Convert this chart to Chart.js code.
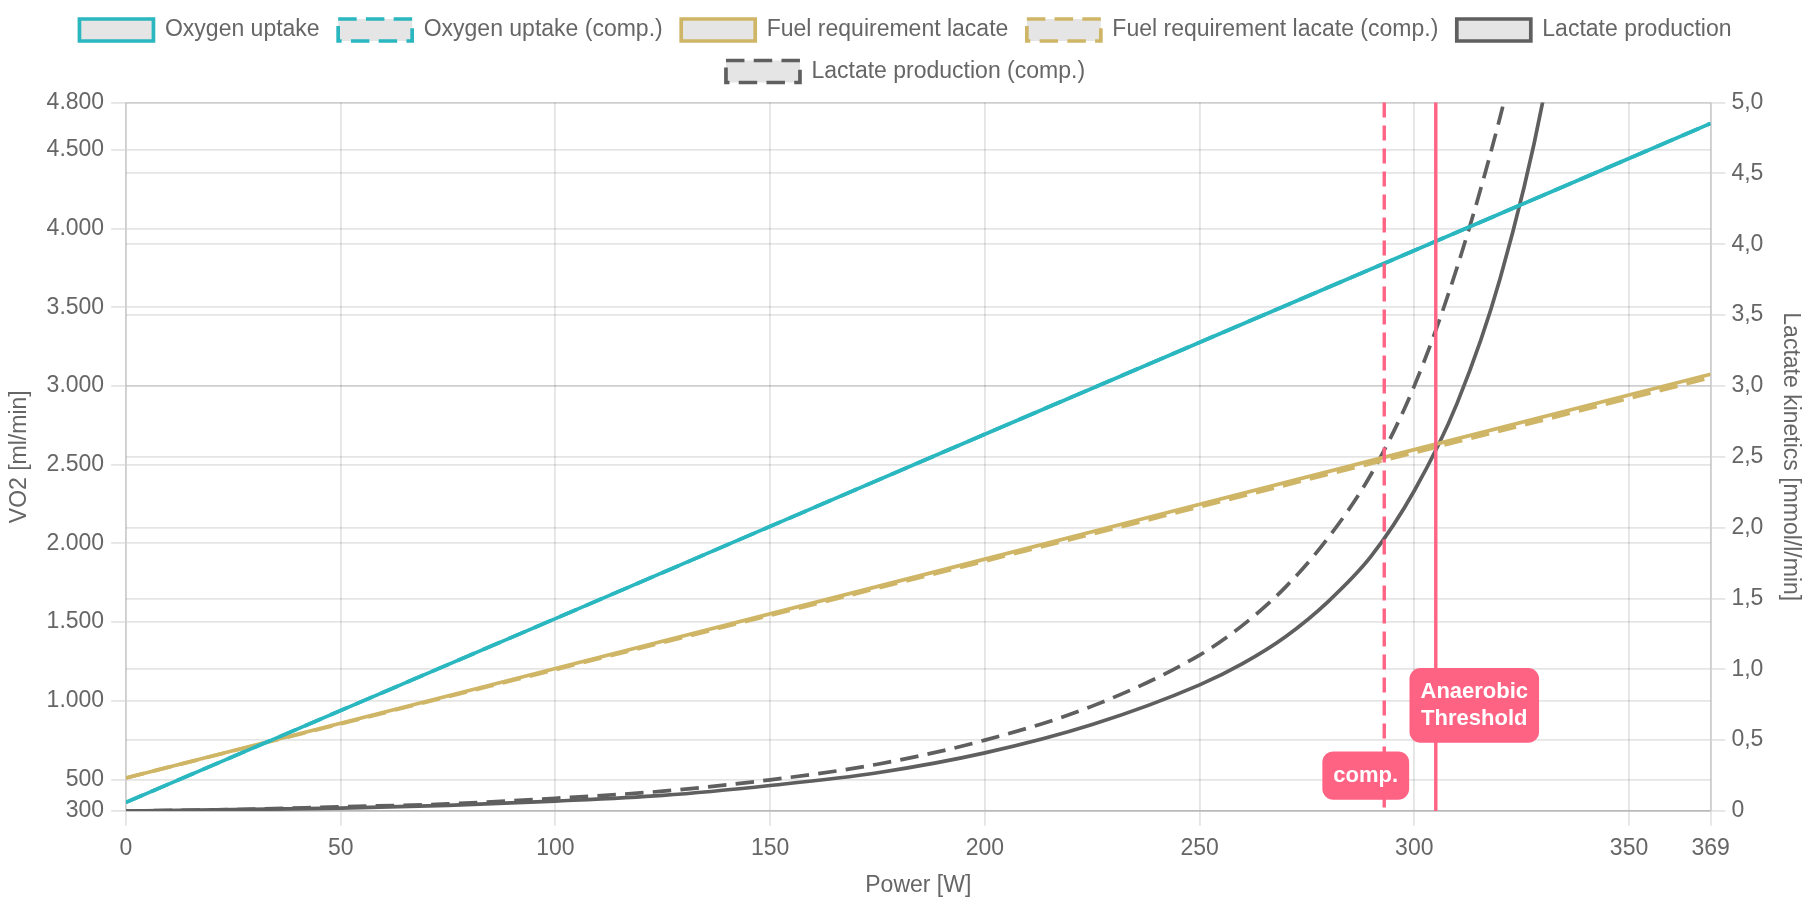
<!DOCTYPE html>
<html>
<head>
<meta charset="utf-8">
<title>Lactate kinetics</title>
<script src="https://cdn.jsdelivr.net/npm/chart.js@4.4.1/dist/chart.umd.min.js"></script>
<style>
    html, body { margin: 0; padding: 0; background: #fff; }
    #chart-wrap { position: relative; width: 1811px; height: 905px; }
</style>
</head>
<body>
<div id="chart-wrap"><canvas id="lactate-chart"></canvas></div>
<script>
// tick labels
const powerTicks = [0, 50, 100, 150, 200, 250, 300, 350, 369];
const vo2Ticks = [300, 500, 1000, 1500, 2000, 2500, 3000, 3500, 4000, 4500, 4800];
const lactateTicks = [0, 0.5, 1, 1.5, 2, 2.5, 3, 3.5, 4, 4.5, 5];

// straight series (VO2 axis, ml/min)
const linePower = [0, 100, 200, 300, 369];
const oxygenUptake = [355, 1522, 2693, 3860, 4667];
const oxygenUptakeComp = [355, 1522, 2693, 3860, 4667];
const fuelLactate = [510, 1205, 1900, 2595, 3074];
const fuelLactateComp = [510, 1198, 1887, 2576, 3052];

// lactate production (right axis, mmol/l/min)
const lactatePower = [0, 25, 50, 75, 100, 125, 150, 175, 200, 225, 250, 260, 270, 280, 290, 300, 310, 320, 330, 340];
const lactateProduction = [0, 0.01, 0.02, 0.04, 0.07, 0.11, 0.18, 0.27, 0.41, 0.61, 0.89, 1.04, 1.23, 1.48, 1.80, 2.26, 2.88, 3.76, 5.02, 6.9];
const lactatePowerComp = [0, 25, 50, 75, 100, 125, 150, 175, 200, 225, 250, 260, 270, 280, 290, 300, 310, 320, 330];
const lactateProductionComp = [0, 0.01, 0.03, 0.05, 0.09, 0.14, 0.22, 0.33, 0.50, 0.74, 1.10, 1.31, 1.58, 1.93, 2.38, 3.00, 3.84, 4.90, 6.2];

// thresholds (W)
const thresholdPower = 305;
const thresholdPowerComp = 293;

const FONT = "'Liberation Sans', Arial, Helvetica, sans-serif";
const TEAL = '#2ab7bf';
const GOLD = '#cfb566';
const GREY = '#5f5f5f';
const PINK = '#ff6384';
const DASH = [18.5, 9.25];

function points(xs, ys) {
    return xs.map(function (x, i) {
        return {x: x, y: ys[i]};
    });
}

function fixedTicks(values) {
    return function (axis) {
        axis.ticks = values.map(function (v) {
            return {value: v};
        });
    };
}

function lineDataset(label, xs, ys, color, dashed, axis) {
    return {
        label: label,
        data: points(xs, ys),
        borderColor: color,
        backgroundColor: 'rgba(0,0,0,0.1)',
        borderWidth: 3.7,
        borderDash: dashed ? DASH : [],
        pointRadius: 0,
        pointHoverRadius: 0,
        fill: false,
        cubicInterpolationMode: 'monotone',
        yAxisID: axis
    };
}

// vertical threshold lines + labels (no annotation plugin available offline)
const thresholdLines = {
    id: 'thresholdLines',
    afterDatasetsDraw(chart, args, opts) {
        const {ctx, chartArea, scales} = chart;
        const pad = 11;
        const lineHeight = 26.4;

        opts.lines.forEach(function (line) {
            const x = scales.x.getPixelForValue(line.value);

            ctx.save();
            ctx.strokeStyle = PINK;
            ctx.lineWidth = 3.4;
            ctx.setLineDash(line.dash || []);
            ctx.beginPath();
            ctx.moveTo(x, chartArea.top);
            ctx.lineTo(x, chartArea.bottom);
            ctx.stroke();
            ctx.setLineDash([]);

            ctx.font = 'bold 22px ' + FONT;
            let textWidth = 0;
            line.label.forEach(function (t) {
                textWidth = Math.max(textWidth, ctx.measureText(t).width);
            });
            const w = textWidth + 2 * pad;
            const h = line.label.length * lineHeight + 2 * pad;
            const cx = x + line.xAdjust;
            const cy = scales.y1.getPixelForValue(line.labelY);

            ctx.fillStyle = PINK;
            ctx.beginPath();
            ctx.roundRect(cx - w / 2, cy - h / 2, w, h, 11);
            ctx.fill();

            ctx.fillStyle = '#fff';
            ctx.textAlign = 'center';
            ctx.textBaseline = 'middle';
            line.label.forEach(function (t, i) {
                ctx.fillText(t, cx, cy - h / 2 + pad + lineHeight * (i + 0.5));
            });
            ctx.restore();
        });
    }
};

// a bit more room between legend and plot
const legendSpacing = {
    id: 'legendSpacing',
    beforeInit(chart) {
        const fit = chart.legend.fit;
        chart.legend.fit = function () {
            fit.bind(chart.legend)();
            this.height += 9.5;
        };
    }
};

Chart.defaults.font.family = FONT;
Chart.defaults.font.size = 23;
Chart.defaults.color = '#666';

const gridOpts = {
    color: 'rgba(0,0,0,0.1)',
    lineWidth: 1.85,
    tickLength: 14.8
};
const borderOpts = {
    color: 'rgba(0,0,0,0.1)',
    width: 1.85
};

const config = {
    type: 'line',
    data: {
        datasets: [
            lineDataset('Oxygen uptake', linePower, oxygenUptake, TEAL, false, 'y'),
            lineDataset('Oxygen uptake (comp.)', linePower, oxygenUptakeComp, TEAL, true, 'y'),
            lineDataset('Fuel requirement lacate', linePower, fuelLactate, GOLD, false, 'y'),
            lineDataset('Fuel requirement lacate (comp.)', linePower, fuelLactateComp, GOLD, true, 'y'),
            lineDataset('Lactate production', lactatePower, lactateProduction, GREY, false, 'y1'),
            lineDataset('Lactate production (comp.)', lactatePowerComp, lactateProductionComp, GREY, true, 'y1')
        ]
    },
    options: {
        responsive: true,
        maintainAspectRatio: false,
        animation: false,
        locale: 'de-DE',
        interaction: {
            mode: 'index',
            intersect: false
        },
        scales: {
            x: {
                type: 'linear',
                min: 0,
                max: 369,
                afterBuildTicks: fixedTicks(powerTicks),
                ticks: {padding: 9, maxRotation: 0, autoSkip: false},
                grid: gridOpts,
                border: borderOpts,
                title: {display: true, text: 'Power [W]', padding: {top: 0, bottom: 6}}
            },
            y: {
                type: 'linear',
                position: 'left',
                min: 300,
                max: 4800,
                afterBuildTicks: fixedTicks(vo2Ticks),
                ticks: {padding: 7, autoSkip: false},
                grid: gridOpts,
                border: borderOpts,
                title: {display: true, text: 'VO2 [ml/min]', padding: {top: 6, bottom: 6}}
            },
            y1: {
                type: 'linear',
                position: 'right',
                min: 0,
                max: 5,
                afterBuildTicks: fixedTicks(lactateTicks),
                ticks: {padding: 6, autoSkip: false},
                grid: gridOpts,
                border: borderOpts,
                title: {display: true, text: 'Lactate kinetics [mmol/l/min]', padding: {top: 7, bottom: 7}}
            }
        },
        plugins: {
            legend: {
                labels: {
                    boxWidth: 74,
                    boxHeight: 22,
                    padding: 18.5
                }
            },
            tooltip: {enabled: false},
            thresholdLines: {
                lines: [
                    {value: thresholdPowerComp, dash: [15, 8], label: ['comp.'], labelY: 0.25, xAdjust: -18.5},
                    {value: thresholdPower, label: ['Anaerobic', 'Threshold'], labelY: 0.745, xAdjust: 38.5}
                ]
            }
        }
    },
    plugins: [thresholdLines, legendSpacing]
};

new Chart(document.getElementById('lactate-chart'), config);
</script>
</body>
</html>
